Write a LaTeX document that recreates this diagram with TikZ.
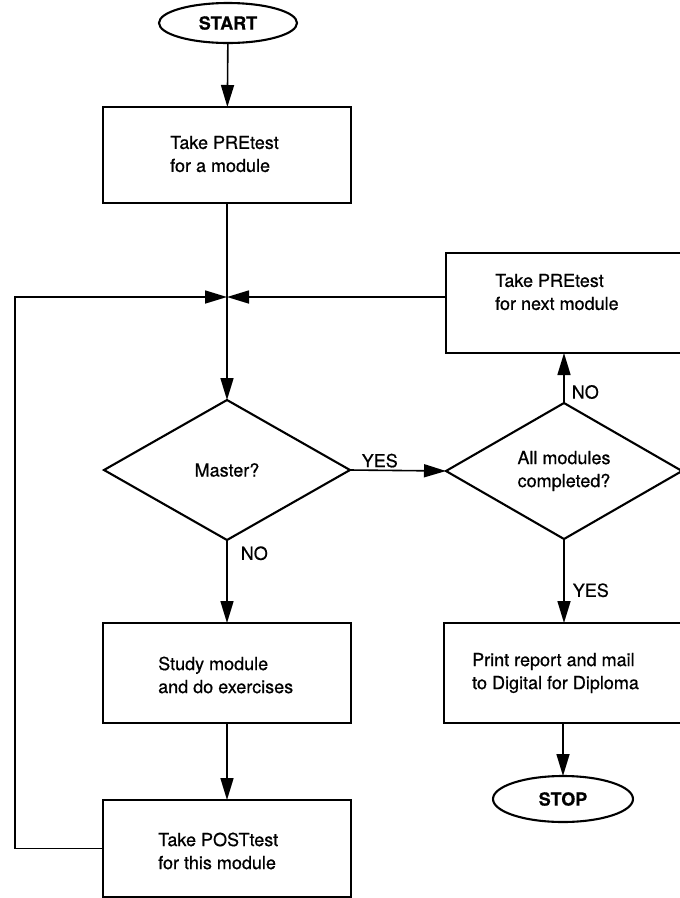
\documentclass[tikz,border=0pt]{standalone}
\usepackage{fontspec}
\setmainfont{TeX Gyre Heros}[FakeBold=0.6]
\usetikzlibrary{shapes.geometric,arrows.meta}
\begin{document}
\begin{tikzpicture}[x=1pt,y=-1pt,
  every node/.style={font=\fontsize{18pt}{23pt}\selectfont},
  outline/.style={draw=black, line width=2.1pt, inner sep=0pt, outer sep=0pt},
  box/.style={outline, rectangle, minimum width=248pt, minimum height=100pt},
  wide box/.style={outline, rectangle, minimum width=276pt, minimum height=100pt},
  terminal/.style={outline, ellipse, font=\fontsize{18pt}{23pt}\selectfont\bfseries},
  decision/.style={outline, diamond, align=center},
  txt/.style={inner sep=0pt, align=left, anchor=west},
  lbl/.style={inner sep=0pt},
  arr/.style={line width=1.6pt, -{Triangle[length=22pt,width=13pt]}},
  conn/.style={line width=1.6pt}
]
\useasboundingbox (0,0) rectangle (680,898);
\clip (0,0) rectangle (680,898);

% terminals
\node[terminal, minimum width=138pt, minimum height=40pt] (start) at (228,23) {START};
\node[terminal, minimum width=140pt, minimum height=46pt] (stop) at (563,799) {STOP};

% process boxes, left column
\node[box, minimum height=96pt] (pre) at (227,155) {};
\node[txt] (pretxt) at (170,154) {Take PREtest\\for a module};
\node[box] (study) at (227,673) {};
\node[txt] (studytxt) at (158,675) {Study module\\and do exercises};
\node[box, minimum height=97pt] (post) at (227,848.5) {};
\node[txt] (posttxt) at (158,851) {Take POSTtest\\for this module};

% process boxes, right column (running off the right edge)
\node[wide box] (next) at (584,303) {};
\node[txt] (nexttxt) at (495,292) {Take PREtest\\for next module};
\node[wide box] (print) at (582,673) {};
\node[txt] (printtxt) at (472,673) {Print report and mail\\to Digital for Diploma};

% decisions
\node[decision, minimum width=246pt, minimum height=140pt] (master) at (227,470) {Master?};
\node[decision, minimum width=236pt, minimum height=136pt] (all) at (564,471) {All modules\\completed?};

% junction above the first decision and the return corner on the left
\coordinate (jn) at (227,297);
\coordinate (lc) at (15,297);

% connectors
\draw[arr] (start) -- (pre);
\draw[conn] (pre.south) -- (jn);
\draw[arr] (jn) -- (master.north);
\draw[arr] (post.west) -| (lc) -- (jn);
\draw[arr] (next.west |- jn) -- (jn);
\draw[arr] (master.east) -- node[lbl, above, pos=0.31, yshift=2pt] (yes1) {YES} (all.west);
\draw[arr] (master.south) -- node[lbl, right, pos=0.16, xshift=13pt] (no1) {NO} (study.north);
\draw[arr] (study.south) -- (post.north);
\draw[arr] (all.north) -- node[lbl, right, pos=0.22, xshift=7pt] (no2) {NO} (all.north |- next.south);
\draw[arr] (all.south) -- node[lbl, right, pos=0.61, xshift=8pt] (yes2) {YES} (all.south |- print.north);
\draw[arr] (print.south -| stop.north) -- (stop.north);
\end{tikzpicture}
\end{document}
